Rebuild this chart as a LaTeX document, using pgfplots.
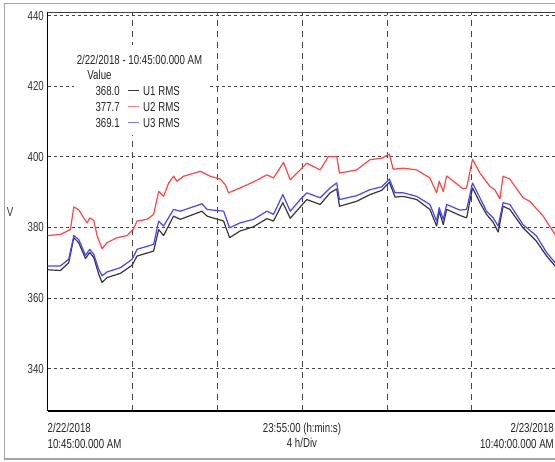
\documentclass[border=0pt]{standalone}
\usepackage{fontspec}
\setmainfont{Liberation Sans}[FakeStretch=0.745]
\usepackage{pgfplots}
\pgfplotsset{compat=1.18}
\usepackage{pgfplotstable}

\definecolor{uone}{RGB}{55,55,55}
\definecolor{utwo}{RGB}{255,70,70}
\definecolor{uthree}{RGB}{70,70,255}
\definecolor{gridc}{RGB}{70,70,70}
\definecolor{framec}{RGB}{165,165,165}

% RMS voltages, hours after 2/22/2018 10:45 AM
\pgfplotstableread{
h v
0 368.0
0.61 367.8
1.0 370.0
1.24 377.1
1.47 375.7
1.79 371.2
1.99 372.9
2.18 371.5
2.41 366.8
2.57 364.4
2.81 365.8
3.44 367.0
3.99 369.3
4.22 371.9
5.00 373.3
5.24 379.4
5.47 377.7
5.94 383.2
6.26 382.3
7.28 384.6
7.52 383.2
8.30 381.8
8.58 377.1
9.08 379.0
9.71 380.2
10.34 382.5
10.65 381.8
11.09 387.0
11.44 382.6
11.91 385.8
12.22 387.9
12.85 386.5
13.32 389.8
13.63 390.9
13.76 386.0
14.57 387.4
15.20 389.3
15.75 390.5
16.11 392.8
16.38 388.6
16.77 388.8
17.40 387.9
18.02 385.1
18.34 380.4
18.46 384.6
18.65 380.8
18.81 385.1
19.44 383.4
19.75 382.7
20.03 391.2
20.38 387.0
20.69 383.7
21.00 381.5
21.24 378.7
21.47 386.0
21.79 385.1
22.41 379.9
23.04 376.1
23.52 371.9
23.917 369.1
}\uone

\pgfplotstableread{
h v
0 377.7
0.61 378.0
1.08 379.4
1.24 385.8
1.47 385.0
1.71 382.7
1.87 381.3
1.99 382.7
2.18 382.0
2.34 377.6
2.57 374.0
2.81 375.7
3.28 377.1
3.75 377.7
4.06 379.6
4.22 381.8
4.69 382.3
5.00 383.7
5.24 390.2
5.47 388.8
5.71 392.6
5.94 394.5
6.10 393.1
6.41 394.5
7.20 395.9
7.67 394.5
8.14 393.7
8.38 392.1
8.53 389.8
9.08 391.2
9.71 392.9
10.34 394.9
10.65 394.0
11.12 398.4
11.44 393.5
11.91 396.3
12.22 398.2
12.85 396.3
13.24 400.1
13.63 400.1
13.76 395.4
14.57 396.3
15.20 399.2
15.75 399.6
16.11 400.8
16.29 396.5
16.77 396.8
17.40 396.3
18.02 394.0
18.34 389.8
18.46 393.1
18.65 390.2
18.81 394.6
19.59 390.9
19.75 391.2
20.03 399.3
20.38 395.4
20.85 391.6
21.08 390.7
21.32 388.1
21.47 394.5
21.79 393.7
22.41 388.4
22.73 387.4
23.36 383.2
23.917 378.0
}\utwo

\pgfplotstableread{
h v
0 369.1
0.61 369.1
1.0 371.0
1.24 377.7
1.47 376.6
1.79 372.1
1.99 373.8
2.18 372.4
2.41 368.2
2.57 366.3
2.81 367.4
3.44 368.6
3.99 371.0
4.22 373.8
5.00 375.2
5.24 381.8
5.47 380.4
5.94 385.1
6.26 384.6
7.28 386.7
7.52 385.1
8.30 384.6
8.58 379.9
9.08 381.3
9.71 382.3
10.34 384.6
10.65 383.7
11.09 389.3
11.44 384.6
11.91 387.9
12.22 389.8
12.85 388.4
13.32 391.2
13.63 392.6
13.76 387.9
14.57 389.0
15.20 390.7
15.75 391.5
16.11 393.7
16.38 389.8
16.77 389.8
17.40 388.8
18.02 386.5
18.34 381.8
18.46 385.6
18.65 382.3
18.81 386.5
19.44 384.9
19.75 385.1
20.03 392.6
20.38 388.4
20.69 384.6
21.00 382.7
21.24 380.4
21.47 387.0
21.79 386.5
22.41 380.8
23.04 377.6
23.52 372.9
23.917 370.0
}\uthree

\begin{document}
\begin{tikzpicture}[x=1pt,y=1pt,font=\fontsize{13}{15}\selectfont]
\clip (0,0) rectangle (555,462);
\fill[white] (0,0) rectangle (555,462);
% outer frame
\draw[framec,line width=1.3pt] (4.5,3) rectangle (570,458.5);

\begin{axis}[
  at={(47.5pt,51pt)}, anchor=south west,
  scale only axis, width=507.5pt, height=398.9pt,
  xmin=0, xmax=23.917, ymin=328, ymax=441,
  axis x line*=bottom, axis y line*=left,
  axis line style={black,line width=1.4pt,-},
  xtick={4,8,12,16,20}, xticklabels={},
  ytick={340,360,...,440},
  major tick length=0pt,
  xmajorgrids, ymajorgrids,
  x grid style={gridc,line width=0.8pt,dash pattern=on 6pt off 5pt},
  y grid style={gridc,line width=0.8pt,dash pattern=on 3.5pt off 2.5pt},
  yticklabel style={inner sep=0pt,anchor=east,xshift=-3.5pt,text=black!80},
  /pgf/number format/assume math mode=true,
  every axis plot/.append style={line width=1.2pt,line join=round,mark=none},
]
\addplot[uone] table[x=h,y=v] {\uone};
\addplot[utwo] table[x=h,y=v] {\utwo};
\addplot[uthree] table[x=h,y=v] {\uthree};
\draw[black!75,line width=0.8pt] (rel axis cs:0,1) -- (rel axis cs:1,1);
\end{axis}

% y axis unit
\node[text=black!80] at (10,250) {V};

% time axis captions
\node[anchor=west,inner sep=0pt,text=black!85] at (47.5,34) {2/22/2018};
\node[anchor=west,inner sep=0pt,text=black!85] at (47.5,18) {10:45:00.000 AM};
\node[inner sep=0pt,text=black!85] at (302,33) {23:55:00 (h:min:s)};
\node[inner sep=0pt,text=black!85] at (302,19) {4 h/Div};
\node[anchor=east,inner sep=0pt,text=black!85] at (554,34) {2/23/2018};
\node[anchor=east,inner sep=0pt,text=black!85] at (554,18) {10:40:00.000 AM};

% value readout
\fill[white] (74,327) rectangle (207,417);
\node[inner sep=0pt,text=black!85] at (139.5,402) {2/22/2018 - 10:45:00.000 AM};
\node[inner sep=0pt,text=black!85] at (99.5,387) {Value};
\node[anchor=east,inner sep=0pt,text=black!85] at (120,371) {368.0};
\node[anchor=east,inner sep=0pt,text=black!85] at (120,355) {377.7};
\node[anchor=east,inner sep=0pt,text=black!85] at (120,339) {369.1};
\draw[uone,line width=1pt] (128,371) -- (139,371);
\draw[utwo!70,line width=1pt] (128,355) -- (139,355);
\draw[uthree!70,line width=1pt] (128,339) -- (139,339);
\node[anchor=west,inner sep=0pt,text=black!85] at (143,371) {U1 RMS};
\node[anchor=west,inner sep=0pt,text=black!85] at (143,355) {U2 RMS};
\node[anchor=west,inner sep=0pt,text=black!85] at (143,339) {U3 RMS};
\end{tikzpicture}
\end{document}
